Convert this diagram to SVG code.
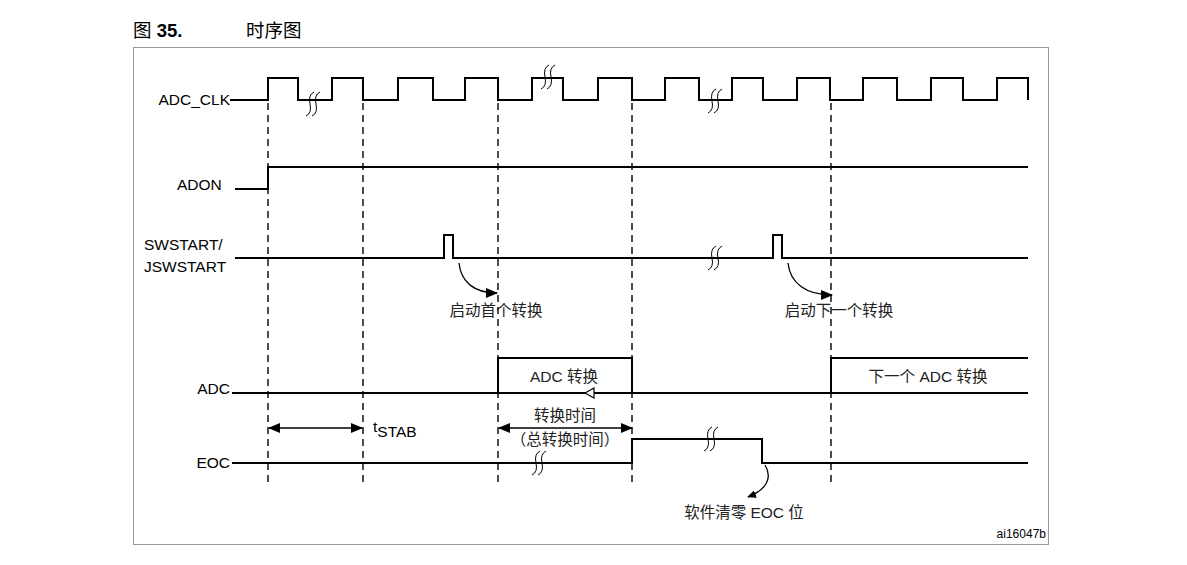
<svg xmlns="http://www.w3.org/2000/svg" xmlns:xlink="http://www.w3.org/1999/xlink" width="1187" height="565" viewBox="0 0 1187 565">
<style>
text{font-family:"Liberation Sans","Noto Sans CJK SC",sans-serif;fill:#000}
.lbl{font-size:15.5px}
.cjk{font-size:15.5px;fill:#222}
.wave{fill:none;stroke:#000;stroke-width:2;stroke-linejoin:miter}
.dash{stroke:#000;stroke-width:1.4;stroke-dasharray:7 5}
.arr{fill:none;stroke:#000;stroke-width:1.3}
.sq{fill:none;stroke:#000;stroke-width:1}
</style>
<defs>
<marker id="ah" viewBox="0 0 12 10" refX="11" refY="5" markerWidth="12" markerHeight="10" markerUnits="userSpaceOnUse" orient="auto-start-reverse">
<path d="M0,0 L12,5 L0,10 Z" fill="#000"/>
</marker>
<marker id="ahs" viewBox="0 0 9 8" refX="8" refY="4" markerWidth="9" markerHeight="8" markerUnits="userSpaceOnUse" orient="auto">
<path d="M0,0 L9,4 L0,8 Z" fill="#000"/>
</marker>
<g id="squig" class="sq">
<path d="M1,-12 Q-5,-9 -3,0 Q-1,9 -7,12"/>
<path d="M7,-12 Q1,-9 3,0 Q5,9 -1,12"/>
</g>
</defs>
<rect width="1187" height="565" fill="#fff"/>

<g id="title">
<text x="133" y="37" style="font-size:18.5px">图 <tspan font-weight="bold">35.</tspan></text>
<text x="246" y="37" style="font-size:18.5px">时序图</text>
</g>
<rect id="frame" x="133.5" y="47.5" width="915" height="497" fill="none" stroke="#999" stroke-width="1"/>

<g id="guides">
<line class="dash" x1="268" y1="103" x2="268" y2="484"/>
<line class="dash" x1="363" y1="103" x2="363" y2="484"/>
<line class="dash" x1="498" y1="103" x2="498" y2="484"/>
<line class="dash" x1="632" y1="103" x2="632" y2="484"/>
<line class="dash" x1="831" y1="103" x2="831" y2="484"/>
</g>

<g id="adc_clk">
<text class="lbl" x="230" y="105" text-anchor="end">ADC_CLK</text>
<path class="wave" d="M230,100 H268 V78 H298 V100 H332 V78 H363 V100 H398 V78 H433 V100 H465 V78 H498 V100 H532 V78 H563 V100 H598 V78 H632 V100 H665 V78 H699 V100 H732 V78 H763 V100 H797 V78 H830 V100 H863 V78 H897 V100 H931 V78 H963 V100 H997 V78 H1028 V100"/>
<use xlink:href="#squig" x="313" y="104"/>
<use xlink:href="#squig" x="548" y="77"/>
<use xlink:href="#squig" x="715" y="101"/>
</g>

<g id="adon">
<text class="lbl" x="177" y="190">ADON</text>
<path class="wave" d="M235,189 H268 V167 H1028"/>
</g>

<g id="swstart">
<text class="lbl" x="144" y="250">SWSTART/</text>
<text class="lbl" x="144" y="272">JSWSTART</text>
<path class="wave" d="M235,258 H444 V235 H453 V258 H773 V235 H782 V258 H1028"/>
<use xlink:href="#squig" x="715" y="258"/>
</g>

<g id="adc">
<text class="lbl" x="230" y="394" text-anchor="end">ADC</text>
<path class="wave" d="M232,393 H1028"/>
<path class="wave" d="M498,393 V358 H632 V393"/>
<path class="wave" d="M831,393 V358 H1028"/>
<text class="cjk" x="564" y="382" text-anchor="middle">ADC 转换</text>
<text class="cjk" x="928" y="382" text-anchor="middle">下一个 ADC 转换</text>
<polygon points="585,393 594,388 594,398" fill="#fff" stroke="#000" stroke-width="1.2"/>
</g>

<g id="eoc">
<text class="lbl" x="230" y="468" text-anchor="end">EOC</text>
<path class="wave" d="M232,463 H632 V439 H762 V463 H1028"/>
<use xlink:href="#squig" x="539" y="463"/>
<use xlink:href="#squig" x="711" y="439"/>
</g>

<g id="connectors">
<path class="arr" d="M459,263 C461,282 474,293 497,293" marker-end="url(#ah)"/>
<path class="arr" d="M788,263 C790,283 806,295 832,295" marker-end="url(#ah)"/>
<path class="arr" d="M765,465 C773,478 766,490 748,497" marker-end="url(#ahs)"/>
<line class="arr" x1="269" y1="428" x2="362" y2="428" marker-start="url(#ah)" marker-end="url(#ah)"/>
<line class="arr" x1="499" y1="428" x2="632" y2="428" marker-start="url(#ah)" marker-end="url(#ah)"/>
</g>

<g id="labels">
<text class="cjk" x="496" y="316" text-anchor="middle">启动首个转换</text>
<text class="cjk" x="839" y="316" text-anchor="middle">启动下一个转换</text>
<text class="lbl" x="373" y="432">t<tspan dy="5">STAB</tspan></text>
<text class="cjk" x="565" y="421" text-anchor="middle">转换时间</text>
<text class="cjk" x="565" y="445" text-anchor="middle">（总转换时间）</text>
<text class="cjk" x="744" y="518" text-anchor="middle">软件清零 EOC 位</text>
<text x="1046" y="538" text-anchor="end" style="font-size:12px">ai16047b</text>
</g>
</svg>
